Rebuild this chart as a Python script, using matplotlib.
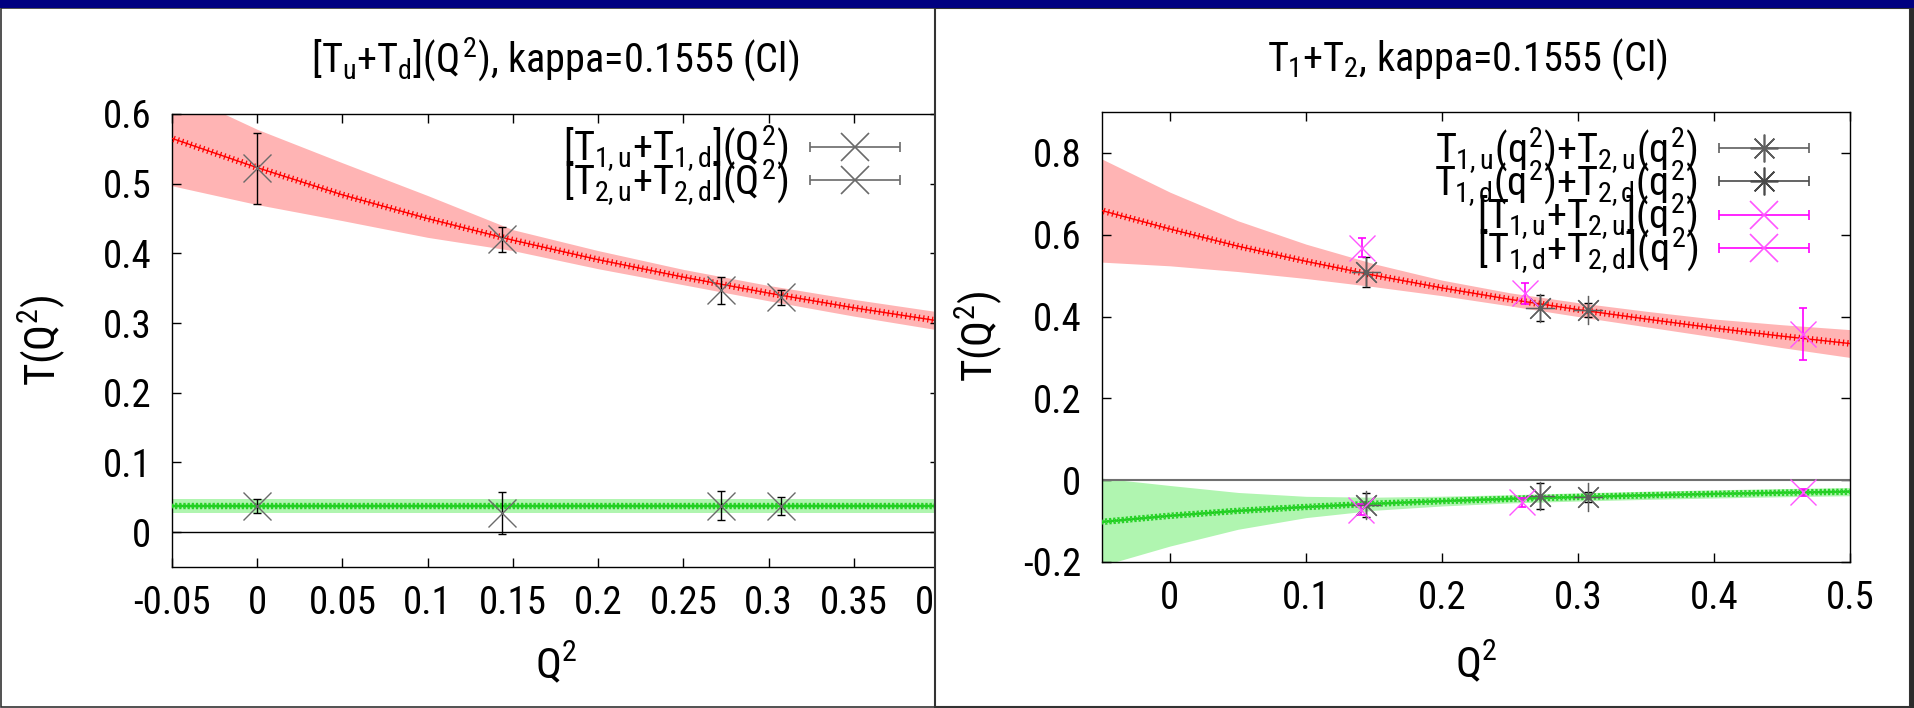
import numpy as np
import matplotlib
matplotlib.use("Agg")
import matplotlib.pyplot as plt
from matplotlib import patheffects as pe
from matplotlib.patches import Rectangle
from matplotlib.lines import Line2D
from matplotlib.collections import LineCollection
from matplotlib.container import ErrorbarContainer
from matplotlib.legend_handler import HandlerErrorbar
from matplotlib import font_manager as fm

# ---------------- data: left panel ----------------
q2_left = [0.0, 0.1437, 0.272, 0.3075]
T1_left = [0.522, 0.420, 0.347, 0.337]
T1_left_err = [0.051, 0.018, 0.019, 0.011]
T2_left = [0.0375, 0.028, 0.038, 0.038]
T2_left_err = [0.010, 0.030, 0.021, 0.013]

xfit_left = [-0.05, 0.0, 0.05, 0.10, 0.15, 0.20, 0.25, 0.30, 0.35, 0.40]
red_left = [0.565, 0.523, 0.484, 0.450, 0.419, 0.391, 0.366, 0.343, 0.322, 0.303]
red_left_hi = [0.635, 0.578, 0.530, 0.483, 0.434, 0.404, 0.377, 0.354, 0.334, 0.316]
red_left_lo = [0.497, 0.470, 0.447, 0.423, 0.404, 0.378, 0.355, 0.332, 0.310, 0.290]
green_left = [0.0375, 0.0375, 0.0375, 0.0375, 0.0375, 0.0375, 0.0375, 0.0375, 0.0375, 0.0375]
green_left_hi = [0.0478, 0.0478, 0.0478, 0.0478, 0.0478, 0.0478, 0.0478, 0.0478, 0.0478, 0.0478]
green_left_lo = [0.0273, 0.0273, 0.0273, 0.0273, 0.0273, 0.0273, 0.0273, 0.0273, 0.0273, 0.0273]

xticks_left = [-0.05, 0.0, 0.05, 0.10, 0.15, 0.20, 0.25, 0.30, 0.35, 0.40]
xlabels_left = ["-0.05", "0", "0.05", "0.1", "0.15", "0.2", "0.25", "0.3", "0.35", "0.4"]
yticks_left = [0.0, 0.1, 0.2, 0.3, 0.4, 0.5, 0.6]
ylabels_left = ["0", "0.1", "0.2", "0.3", "0.4", "0.5", "0.6"]

# ---------------- data: right panel ----------------
q2_black = [0.1438, 0.272, 0.3076]
u_black = [0.508, 0.4205, 0.416]
u_black_err = [0.037, 0.0315, 0.017]
d_black = [-0.061, -0.0385, -0.041]
d_black_err = [0.030, 0.032, 0.013]

q2_mag_u = [0.1415, 0.261, 0.4656]
u_mag = [0.568, 0.4565, 0.358]
u_mag_err = [0.023, 0.026, 0.064]
q2_mag_d = [0.1405, 0.259, 0.4656]
d_mag = [-0.0725, -0.054, -0.030]
d_mag_err = [0.0135, 0.011, 0.008]

xfit_right = [-0.05, 0.0, 0.05, 0.10, 0.15, 0.20, 0.25, 0.30, 0.35, 0.40, 0.45, 0.50]
red_right = [0.659, 0.614, 0.572, 0.535, 0.501, 0.470, 0.442, 0.417, 0.394, 0.372, 0.352, 0.334]
red_right_hi = [0.785, 0.704, 0.634, 0.577, 0.529, 0.489, 0.458, 0.434, 0.413, 0.394, 0.380, 0.368]
red_right_lo = [0.533, 0.524, 0.510, 0.493, 0.473, 0.451, 0.426, 0.400, 0.375, 0.350, 0.324, 0.300]
green_right = [-0.102, -0.087, -0.075, -0.0655, -0.0576, -0.0511, -0.0456, -0.041, -0.037, -0.0336, -0.0306, -0.028]
green_right_hi = [0.005, -0.013, -0.030, -0.0395, -0.0416, -0.0391, -0.0356, -0.031, -0.027, -0.0236, -0.0206, -0.018]
green_right_lo = [-0.209, -0.161, -0.120, -0.0915, -0.0736, -0.0631, -0.0556, -0.051, -0.047, -0.0436, -0.0406, -0.038]

xticks_right = [0.0, 0.1, 0.2, 0.3, 0.4, 0.5]
xlabels_right = ["0", "0.1", "0.2", "0.3", "0.4", "0.5"]
yticks_right = [-0.2, 0.0, 0.2, 0.4, 0.6, 0.8]
ylabels_right = ["-0.2", "0", "0.2", "0.4", "0.6", "0.8"]

title_left = "$[T_u$+$T_d](Q^2)$, kappa=0.1555 (Cl)"
title_right = "$T_1$+$T_2$, kappa=0.1555 (Cl)"
legend_left = ["$[T_{1,u}$+$T_{1,d}](Q^2)$", "$[T_{2,u}$+$T_{2,d}](Q^2)$"]
legend_right = ["$T_{1,u}(q^2)$+$T_{2,u}(q^2)$", "$T_{1,d}(q^2)$+$T_{2,d}(q^2)$",
                "$[T_{1,u}$+$T_{2,u}](q^2)$", "$[T_{1,d}$+$T_{2,d}](q^2)$"]

# ---------------- style ----------------
available = {f.name for f in fm.fontManager.ttflist}
narrow = None
for cand in ["Liberation Sans Narrow", "DejaVu Sans Condensed", "Roboto Condensed"]:
    if cand in available:
        narrow = cand
        break
MAIN = narrow if narrow else "Liberation Sans"
plt.rcParams["font.family"] = [MAIN, "Liberation Sans", "DejaVu Sans"]
plt.rcParams["mathtext.fontset"] = "custom"
plt.rcParams["mathtext.rm"] = MAIN
plt.rcParams["mathtext.it"] = MAIN
plt.rcParams["mathtext.bf"] = MAIN + ":bold"
SCALE = 1.0 if narrow else 0.85

RED = "#ff0000"
RED_BAND = "#ffb4b4"
GREEN = "#22d022"
GREEN_BAND = "#b0f5b0"
MAG = "#ff00ff"
MAG_M = "#ff55ff"
GRAY = "#6a6a6a"
AST = "#5f5f5f"

FS_TICK = 28 * SCALE
FS_TITLE = 29 * SCALE
FS_LEG = 29 * SCALE
FS_LAB = 31 * SCALE

W, H = 1915, 708
fig = plt.figure(figsize=(W / 100, H / 100), dpi=100)
fig.patch.set_facecolor("white")


def rect(x0, y0, x1, y1, **kw):
    r = Rectangle((x0 / W, 1 - y1 / H), (x1 - x0) / W, (y1 - y0) / H,
                  transform=fig.transFigure, **kw)
    fig.add_artist(r)
    return r


def axbox(x0, y0, x1, y1):
    return [x0 / W, 1 - y1 / H, (x1 - x0) / W, (y1 - y0) / H]


# panels / screen decoration
rect(0.6, 8, 935, 707.4, fc="white", ec="#333333", lw=1.2, zorder=-1)
rect(935, 8, 1910, 707.4, fc="white", ec="#333333", lw=1.5, zorder=1)
rect(1910, 0, 1915, 708, fc="#2b2b2b", ec="none", zorder=3)
rect(0, 0, 1915, 8, fc="#000080", ec="none", zorder=3)

plus_fx = [pe.Normal(),
           pe.TickedStroke(spacing=3.2, angle=90, length=0.6, linewidth=0.9),
           pe.TickedStroke(spacing=3.2, angle=-90, length=0.6, linewidth=0.9)]
cross_fx = [pe.Normal(),
            pe.TickedStroke(spacing=3.0, angle=45, length=0.9, linewidth=0.8),
            pe.TickedStroke(spacing=3.0, angle=-45, length=0.9, linewidth=0.8),
            pe.TickedStroke(spacing=3.0, angle=135, length=0.9, linewidth=0.8),
            pe.TickedStroke(spacing=3.0, angle=-135, length=0.9, linewidth=0.8)]

ASTER = (8, 2, 0)


def style_axes(ax):
    for s in ax.spines.values():
        s.set_linewidth(1.0)
        s.set_color("black")
    ax.tick_params(axis="both", which="both", direction="in", top=True, right=True,
                   length=6.5, width=1.0, labelsize=FS_TICK)
    ax.tick_params(axis="x", pad=13)
    ax.tick_params(axis="y", pad=15)


def proxy(marker, ms, mcolor, bcolor, lw):
    ln = Line2D([], [], ls="none", marker=marker, ms=ms, mec=mcolor, mfc="none",
                mew=lw, color=mcolor)
    cap = Line2D([], [], ls="none", marker="|", ms=6.5, mec=bcolor, mew=lw, color=bcolor)
    bar = LineCollection([], colors=[bcolor], linewidths=[lw])
    return ErrorbarContainer((ln, (cap, cap), (bar,)), has_xerr=True, has_yerr=False)


HANDLE_PT = 64.8   # length of the legend sample (points)
hmap = {ErrorbarContainer: HandlerErrorbar(xerr_size=HANDLE_PT / 2 / FS_LEG, numpoints=1)}
leg_kw = dict(loc="upper right", frameon=False, markerfirst=False,
              handlelength=HANDLE_PT / FS_LEG, handletextpad=15.0 / FS_LEG,
              labelspacing=-0.4, borderpad=0, borderaxespad=0, fontsize=FS_LEG,
              handler_map=hmap)

# ---------------- left panel ----------------
axL = fig.add_axes(axbox(172, 114, 939, 567), zorder=0)
axL.set_xlim(-0.05, 0.4)
axL.set_ylim(-0.05, 0.6)
axL.fill_between(xfit_left, red_left_lo, red_left_hi, color=RED_BAND, lw=0, zorder=1)
axL.fill_between(xfit_left, green_left_lo, green_left_hi, color=GREEN_BAND, lw=0, zorder=1)
axL.axhline(0, color="black", lw=1.0, zorder=2)
axL.plot(xfit_left, red_left, color=RED, lw=1.0, path_effects=plus_fx, zorder=3)
axL.plot(xfit_left, green_left, color=GREEN, lw=1.6, path_effects=cross_fx, zorder=3)
axL.errorbar(q2_left, T1_left, yerr=T1_left_err, fmt="none", ecolor="black",
             elinewidth=1.0, capsize=3, capthick=1.0, zorder=4)
axL.plot(q2_left, T1_left, ls="none", marker="x", ms=20, mew=1.0, color=GRAY, zorder=5)
axL.errorbar(q2_left, T2_left, yerr=T2_left_err, fmt="none", ecolor="black",
             elinewidth=1.0, capsize=3, capthick=1.0, zorder=4)
axL.plot(q2_left, T2_left, ls="none", marker="x", ms=20, mew=1.0, color=GRAY, zorder=5)

axL.set_xticks(xticks_left, xlabels_left)
axL.set_yticks(yticks_left, ylabels_left)
style_axes(axL)
axL.set_xlabel("Q$^2$", fontsize=FS_LAB)
axL.xaxis.set_label_coords(0.5, -0.215)
axL.xaxis.label.set_va("center")
axL.set_ylabel("T(Q$^2$)", fontsize=FS_LAB)
axL.yaxis.set_label_coords(-0.170, 0.5)
axL.yaxis.label.set_va("center")
axL.text(0.5, 1.119, title_left, transform=axL.transAxes, ha="center", va="center",
         fontsize=FS_TITLE)
axL.legend([proxy("x", 20, GRAY, GRAY, 1.2), proxy("x", 20, GRAY, GRAY, 1.2)],
           legend_left, bbox_to_anchor=(0.949, 0.978), **leg_kw)

# ---------------- right panel ----------------
axR = fig.add_axes(axbox(1102, 112, 1850, 562), zorder=2)
axR.set_xlim(-0.05, 0.5)
axR.set_ylim(-0.2, 0.9)
axR.fill_between(xfit_right, red_right_lo, red_right_hi, color=RED_BAND, lw=0, zorder=1)
axR.fill_between(xfit_right, green_right_lo, green_right_hi, color=GREEN_BAND, lw=0, zorder=1)
axR.axhline(0, color="#707070", lw=1.5, zorder=2)
axR.plot(xfit_right, red_right, color=RED, lw=1.0, path_effects=plus_fx, zorder=3)
axR.plot(xfit_right, green_right, color=GREEN, lw=1.4, path_effects=cross_fx, zorder=3)

axR.errorbar(q2_black, u_black, yerr=u_black_err, fmt="none", ecolor="black",
             elinewidth=1.0, capsize=3, capthick=1.0, zorder=4)
axR.plot(q2_black, u_black, ls="none", marker=ASTER, ms=21, mew=0.9, color=AST, zorder=5)
axR.errorbar(q2_black, d_black, yerr=d_black_err, fmt="none", ecolor="black",
             elinewidth=1.0, capsize=3, capthick=1.0, zorder=4)
axR.plot(q2_black, d_black, ls="none", marker=ASTER, ms=21, mew=0.9, color=AST, zorder=5)
axR.errorbar(q2_mag_u, u_mag, yerr=u_mag_err, fmt="none", ecolor=MAG,
             elinewidth=1.2, capsize=3, capthick=1.2, zorder=4)
axR.plot(q2_mag_u, u_mag, ls="none", marker="x", ms=19, mew=1.0, color=MAG_M, zorder=5)
axR.errorbar(q2_mag_d, d_mag, yerr=d_mag_err, fmt="none", ecolor=MAG,
             elinewidth=1.2, capsize=3, capthick=1.2, zorder=4)
axR.plot(q2_mag_d, d_mag, ls="none", marker="x", ms=19, mew=1.0, color=MAG_M, zorder=5)

axR.set_xticks(xticks_right, xlabels_right)
axR.set_yticks(yticks_right, ylabels_right)
style_axes(axR)
axR.set_xlabel("Q$^2$", fontsize=FS_LAB)
axR.xaxis.set_label_coords(0.5, -0.225)
axR.xaxis.label.set_va("center")
axR.set_ylabel("T(Q$^2$)", fontsize=FS_LAB)
axR.yaxis.set_label_coords(-0.165, 0.5)
axR.yaxis.label.set_va("center")
axR.text(0.488, 1.118, title_right, transform=axR.transAxes, ha="center", va="center",
         fontsize=FS_TITLE)
axR.legend([proxy(ASTER, 20, AST, AST, 1.2),
            proxy(ASTER, 20, "#4a4a4a", "#4a4a4a", 1.2),
            proxy("x", 20, MAG_M, MAG, 1.2),
            proxy("x", 20, MAG_M, MAG, 1.2)],
           legend_right, bbox_to_anchor=(0.945, 0.97), **leg_kw)

fig.savefig("out.png", dpi=100, facecolor=fig.get_facecolor())
